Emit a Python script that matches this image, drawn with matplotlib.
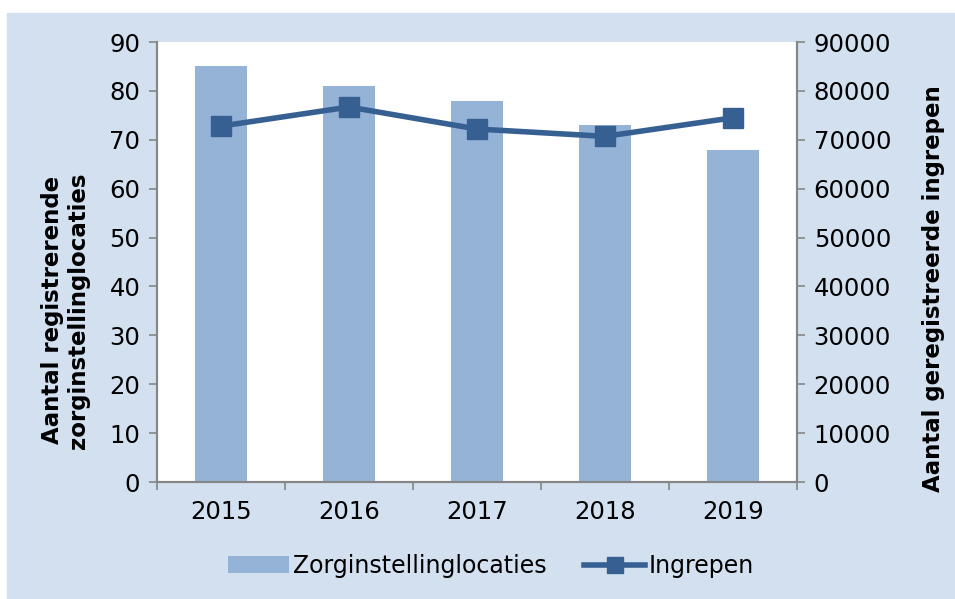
import numpy as np
import matplotlib.pyplot as plt
from matplotlib.patches import Rectangle

plt.rcParams['font.family'] = 'DejaVu Sans'

# -------------- data ------------------------------------------------------
years = ['2015', '2016', '2017', '2018', '2019']
locaties = [85, 81, 78, 73, 68]
ingrepen = [72800, 76700, 72200, 70700, 74500]

bar_color = '#95B3D7'
line_color = '#376092'
bg_color = '#D3E0EF'
spine_color = '#868686'

fig = plt.figure(figsize=(9.55, 5.99), dpi=100)
# light-blue chart area (starts a few px in from top-left, like the original)
fig.patches.append(Rectangle((7 / 955, 0), 1, 1 - 13 / 599,
                             transform=fig.transFigure, color=bg_color, zorder=-1))

ax = fig.add_axes([157 / 955, 1 - 482 / 599, 640 / 955, 440 / 599])
ax.set_facecolor('white')
x = np.arange(len(years))
ax.bar(x, locaties, width=0.4, color=bar_color, label='Zorginstellinglocaties', zorder=2)
ax.set_xlim(-0.5, len(years) - 0.5)
ax.set_ylim(0, 90)
ax.set_yticks(range(0, 91, 10))
ax.set_xticks(x)
ax.set_xticklabels(years)
ax.set_xticks(np.arange(-0.5, len(years), 1), minor=True)
ax.tick_params(axis='x', which='major', length=0, pad=13, labelsize=17.5)
ax.tick_params(axis='x', which='minor', length=6, color=spine_color, width=1.2)
ax.tick_params(axis='y', length=6, color=spine_color, width=1.2, labelsize=17.5, pad=6)
ax.spines['top'].set_visible(False)
for s in ['left', 'right', 'bottom']:
    ax.spines[s].set_color(spine_color)
    ax.spines[s].set_linewidth(1.5)
ax.set_ylabel('Aantal registrerende\nzorginstellinglocaties', fontsize=16.5,
              fontweight='bold', labelpad=14, linespacing=1.15)
ax.yaxis.label.set_y(0.39)

ax2 = ax.twinx()
ax2.plot(x, ingrepen, color=line_color, linewidth=4, marker='s', markersize=14,
         label='Ingrepen', zorder=3)
ax2.set_ylim(0, 90000)
ax2.set_yticks(range(0, 90001, 10000))
ax2.tick_params(axis='y', length=6, color=spine_color, width=1.2, labelsize=17.5, pad=6)
ax2.spines['top'].set_visible(False)
for s in ['left', 'right', 'bottom']:
    ax2.spines[s].set_color(spine_color)
    ax2.spines[s].set_linewidth(1.5)
ax2.set_ylabel('Aantal geregistreerde ingrepen', fontsize=16.5, fontweight='bold',
               labelpad=22)
ax2.yaxis.label.set_y(0.44)

h1, l1 = ax.get_legend_handles_labels()
h2, l2 = ax2.get_legend_handles_labels()
leg = fig.legend(h1 + h2, l1 + l2, loc='center', bbox_to_anchor=(491 / 955, 1 - 566 / 599),
                 ncol=2, frameon=False, fontsize=17, handlelength=2.6, handletextpad=0.15,
                 columnspacing=1.6, markerscale=0.8)

fig.savefig('out.png', dpi=100)
